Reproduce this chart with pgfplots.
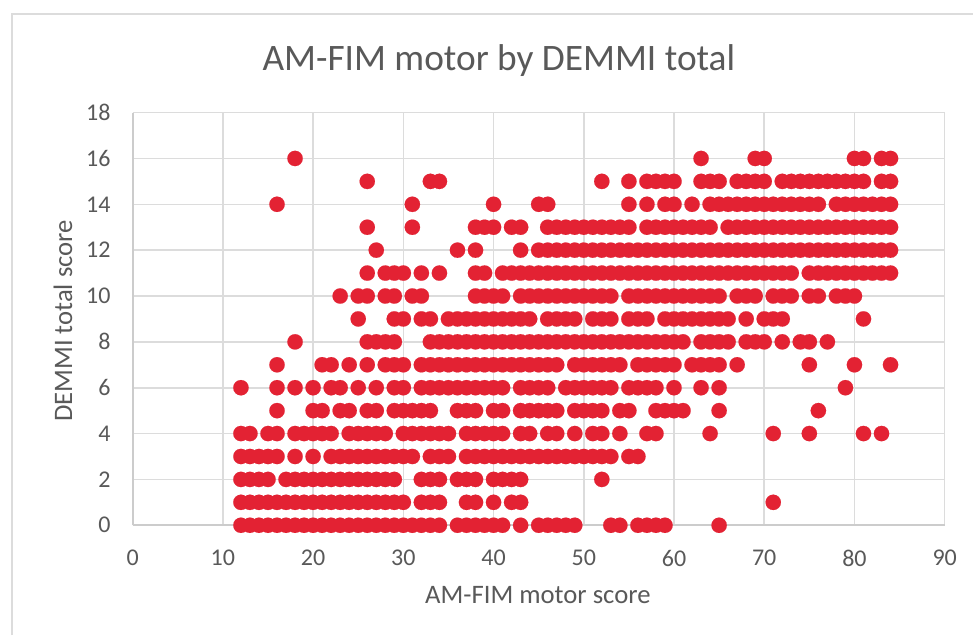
\documentclass[border=0pt]{standalone}
\usepackage{fontspec}
\setmainfont{Carlito}
\usepackage{pgfplots}
\pgfplotsset{compat=1.18}
\definecolor{gridc}{HTML}{DCDCDC}
\definecolor{axc}{HTML}{CCCCCC}
\definecolor{txt}{HTML}{595959}
\definecolor{dot}{HTML}{E32233}
\pgfplotsset{mk/.style={only marks,mark=*,mark size=5.75pt,draw=dot,fill=dot,mark options={draw=dot,fill=dot,line width=0.1pt},forget plot}}
\begin{document}
\begin{tikzpicture}
\useasboundingbox (0pt,0pt) rectangle (729.75pt,476.25pt);
\fill[white] (0pt,0pt) rectangle (729.75pt,476.25pt);
\draw[gridc,line width=1.2pt] (9pt,0pt) -- (9pt,465.75pt) -- (729.75pt,465.75pt);
\begin{axis}[
  at={(99.5pt,82.3pt)},anchor=south west,
  scale only axis,width=609pt,height=309.5pt,
  xmin=0,xmax=90,ymin=0,ymax=18,
  xtick={0,10,...,90},ytick={0,2,...,18},
  axis x line=bottom,axis y line=left,
  axis line style={draw=axc,line width=1.3pt,-},
  grid=both,major grid style={draw=gridc,line width=1.2pt},
  tick style={draw=none},clip=false,
  /pgf/number format/assume math mode=true,
  tick label style={font=\fontsize{18}{21}\selectfont,text=txt},
  xticklabel style={yshift=-13pt},
  yticklabel style={xshift=-11pt},
  title={AM-FIM motor by DEMMI total},
  title style={at={(axis description cs:0.451,1.106)},anchor=center,font=\fontsize{28}{33}\selectfont,text=txt},
  xlabel={AM-FIM motor score},
  xlabel style={at={(axis description cs:0.499,-0.169)},anchor=center,font=\fontsize{20}{24}\selectfont,text=txt},
  ylabel={DEMMI total score},
  ylabel style={at={(axis description cs:-0.0858,0.495)},anchor=center,font=\fontsize{20}{24}\selectfont,text=txt},
]
\addplot[mk] coordinates {(12,0)(13,0)(14,0)(15,0)(16,0)(17,0)(18,0)(19,0)(20,0)(21,0)(22,0)(23,0)(24,0)(25,0)(26,0)(27,0)(28,0)(29,0)(30,0)(31,0)(32,0)(33,0)(34,0)(36,0)(37,0)(38,0)(39,0)(40,0)(41,0)(43,0)(45,0)(46,0)(47,0)(48,0)(49,0)(53,0)(54,0)(56,0)(57,0)(58,0)(59,0)(65,0)};
\addplot[mk] coordinates {(12,1)(13,1)(14,1)(15,1)(16,1)(17,1)(18,1)(19,1)(20,1)(21,1)(22,1)(23,1)(24,1)(25,1)(26,1)(27,1)(28,1)(29,1)(30,1)(32,1)(33,1)(34,1)(37,1)(38,1)(40,1)(42,1)(43,1)(71,1)};
\addplot[mk] coordinates {(12,2)(13,2)(14,2)(15,2)(17,2)(18,2)(19,2)(20,2)(21,2)(22,2)(23,2)(24,2)(25,2)(26,2)(27,2)(28,2)(29,2)(32,2)(33,2)(34,2)(36,2)(37,2)(38,2)(40,2)(41,2)(42,2)(43,2)(52,2)};
\addplot[mk] coordinates {(12,3)(13,3)(14,3)(15,3)(16,3)(18,3)(20,3)(22,3)(23,3)(24,3)(25,3)(26,3)(27,3)(28,3)(29,3)(30,3)(31,3)(33,3)(34,3)(35,3)(37,3)(38,3)(39,3)(40,3)(41,3)(42,3)(43,3)(44,3)(45,3)(46,3)(47,3)(48,3)(49,3)(50,3)(51,3)(52,3)(53,3)(55,3)(56,3)};
\addplot[mk] coordinates {(12,4)(13,4)(15,4)(16,4)(18,4)(19,4)(20,4)(21,4)(22,4)(24,4)(25,4)(26,4)(27,4)(28,4)(30,4)(31,4)(32,4)(33,4)(34,4)(35,4)(37,4)(38,4)(39,4)(40,4)(41,4)(43,4)(44,4)(46,4)(47,4)(49,4)(51,4)(52,4)(54,4)(57,4)(58,4)(64,4)(71,4)(75,4)(81,4)(83,4)};
\addplot[mk] coordinates {(16,5)(20,5)(21,5)(23,5)(24,5)(26,5)(27,5)(29,5)(30,5)(31,5)(32,5)(33,5)(36,5)(37,5)(38,5)(40,5)(41,5)(43,5)(44,5)(45,5)(46,5)(47,5)(49,5)(50,5)(51,5)(52,5)(54,5)(55,5)(58,5)(59,5)(60,5)(61,5)(65,5)(76,5)};
\addplot[mk] coordinates {(12,6)(16,6)(18,6)(20,6)(22,6)(23,6)(25,6)(27,6)(29,6)(30,6)(32,6)(33,6)(34,6)(35,6)(36,6)(37,6)(38,6)(39,6)(40,6)(41,6)(43,6)(44,6)(45,6)(46,6)(48,6)(49,6)(50,6)(51,6)(52,6)(53,6)(55,6)(56,6)(57,6)(58,6)(60,6)(63,6)(65,6)(79,6)};
\addplot[mk] coordinates {(16,7)(21,7)(22,7)(24,7)(26,7)(28,7)(29,7)(30,7)(32,7)(33,7)(34,7)(35,7)(36,7)(37,7)(38,7)(39,7)(40,7)(41,7)(42,7)(43,7)(44,7)(45,7)(46,7)(47,7)(49,7)(50,7)(51,7)(52,7)(53,7)(54,7)(56,7)(57,7)(58,7)(59,7)(60,7)(62,7)(63,7)(64,7)(65,7)(67,7)(75,7)(80,7)(84,7)};
\addplot[mk] coordinates {(18,8)(26,8)(27,8)(28,8)(29,8)(33,8)(34,8)(35,8)(36,8)(37,8)(38,8)(39,8)(40,8)(41,8)(42,8)(43,8)(44,8)(45,8)(46,8)(47,8)(48,8)(49,8)(50,8)(51,8)(52,8)(53,8)(54,8)(55,8)(56,8)(57,8)(58,8)(59,8)(60,8)(61,8)(63,8)(64,8)(65,8)(66,8)(68,8)(69,8)(70,8)(72,8)(74,8)(75,8)(77,8)};
\addplot[mk] coordinates {(25,9)(29,9)(30,9)(32,9)(33,9)(35,9)(36,9)(37,9)(38,9)(39,9)(40,9)(41,9)(42,9)(43,9)(44,9)(46,9)(47,9)(48,9)(49,9)(51,9)(52,9)(53,9)(55,9)(56,9)(57,9)(59,9)(60,9)(61,9)(62,9)(63,9)(64,9)(65,9)(66,9)(68,9)(70,9)(71,9)(72,9)(81,9)};
\addplot[mk] coordinates {(23,10)(25,10)(26,10)(28,10)(29,10)(31,10)(32,10)(38,10)(39,10)(40,10)(41,10)(43,10)(44,10)(45,10)(46,10)(47,10)(48,10)(49,10)(50,10)(51,10)(52,10)(53,10)(55,10)(56,10)(57,10)(58,10)(59,10)(60,10)(61,10)(62,10)(63,10)(64,10)(65,10)(67,10)(68,10)(69,10)(71,10)(72,10)(73,10)(75,10)(76,10)(78,10)(79,10)(80,10)};
\addplot[mk] coordinates {(26,11)(28,11)(29,11)(30,11)(32,11)(34,11)(38,11)(39,11)(41,11)(42,11)(43,11)(44,11)(45,11)(46,11)(47,11)(48,11)(49,11)(50,11)(51,11)(52,11)(53,11)(54,11)(55,11)(56,11)(57,11)(58,11)(59,11)(60,11)(61,11)(62,11)(63,11)(64,11)(65,11)(66,11)(67,11)(68,11)(69,11)(70,11)(71,11)(72,11)(73,11)(75,11)(76,11)(77,11)(78,11)(79,11)(80,11)(81,11)(82,11)(83,11)(84,11)};
\addplot[mk] coordinates {(27,12)(36,12)(38,12)(43,12)(45,12)(46,12)(47,12)(48,12)(49,12)(50,12)(51,12)(52,12)(53,12)(54,12)(55,12)(56,12)(57,12)(58,12)(59,12)(60,12)(61,12)(62,12)(63,12)(64,12)(65,12)(66,12)(67,12)(68,12)(69,12)(70,12)(71,12)(72,12)(73,12)(74,12)(75,12)(76,12)(77,12)(78,12)(79,12)(80,12)(81,12)(82,12)(83,12)(84,12)};
\addplot[mk] coordinates {(26,13)(31,13)(38,13)(39,13)(40,13)(42,13)(43,13)(46,13)(47,13)(48,13)(49,13)(50,13)(51,13)(52,13)(53,13)(54,13)(55,13)(57,13)(58,13)(59,13)(60,13)(61,13)(62,13)(63,13)(64,13)(66,13)(67,13)(68,13)(69,13)(70,13)(71,13)(72,13)(73,13)(74,13)(75,13)(76,13)(77,13)(78,13)(79,13)(80,13)(81,13)(82,13)(83,13)(84,13)};
\addplot[mk] coordinates {(16,14)(31,14)(40,14)(45,14)(46,14)(55,14)(57,14)(59,14)(60,14)(62,14)(64,14)(65,14)(66,14)(67,14)(68,14)(69,14)(70,14)(71,14)(72,14)(73,14)(74,14)(75,14)(76,14)(78,14)(79,14)(80,14)(81,14)(82,14)(83,14)(84,14)};
\addplot[mk] coordinates {(26,15)(33,15)(34,15)(52,15)(55,15)(57,15)(58,15)(59,15)(60,15)(63,15)(64,15)(65,15)(67,15)(68,15)(69,15)(70,15)(72,15)(73,15)(74,15)(75,15)(76,15)(77,15)(78,15)(79,15)(80,15)(81,15)(83,15)(84,15)};
\addplot[mk] coordinates {(18,16)(63,16)(69,16)(70,16)(80,16)(81,16)(83,16)(84,16)};
\end{axis}
\end{tikzpicture}
\end{document}
